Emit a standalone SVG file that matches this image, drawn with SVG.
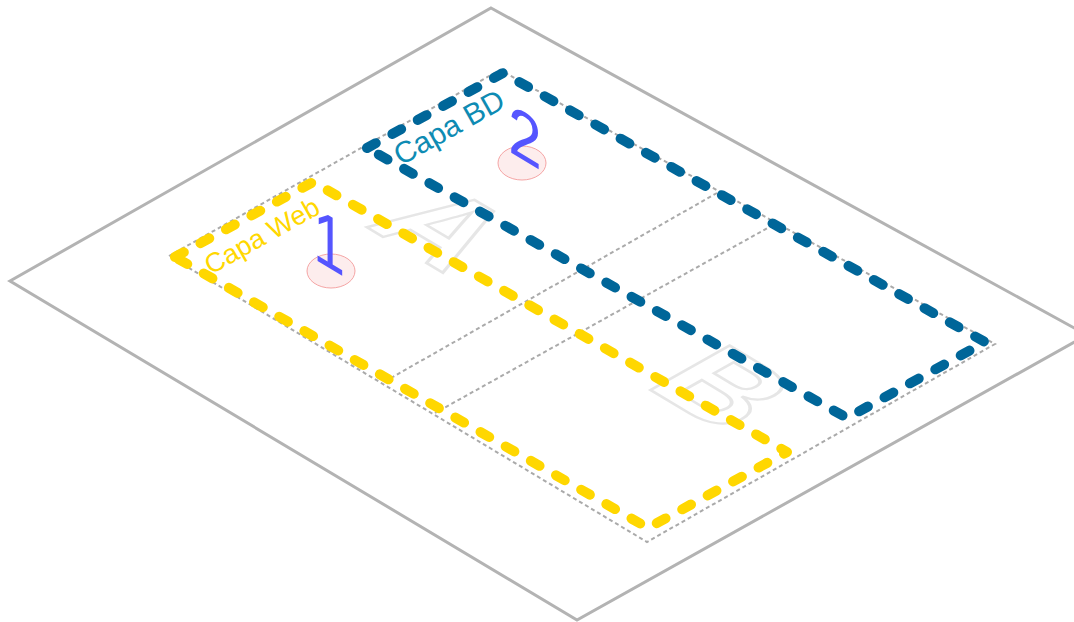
<svg xmlns="http://www.w3.org/2000/svg" width="1074" height="622" viewBox="0 0 1074 622">
  <style>
    .plane { fill: #ffffff; stroke: #b3b3b3; stroke-width: 3; stroke-linejoin: miter; }
    .grid { fill: none; stroke: #aaaaaa; stroke-width: 2; stroke-dasharray: 4 3; }
    .big { font-family: "Liberation Sans", Arial, sans-serif; font-weight: bold; font-size: 132px; fill: none; stroke: #e6e6e6; stroke-width: 3; text-anchor: middle; }
    .layer { fill: none; stroke-width: 10; stroke-linecap: round; stroke-linejoin: round; stroke-dasharray: 10 19; }
    .web { stroke: #ffd700; }
    .bd { stroke: #006699; }
    .lbl { font-family: "Liberation Sans", Arial, sans-serif; }
    .num { font-family: "Liberation Sans", Arial, sans-serif; fill: #5555ff; text-anchor: middle; }
    .spot { fill: #fde8e8; fill-opacity: 0.8; stroke: #f5a5a5; stroke-width: 1; }
  </style>
  <g id="plane">
    <polygon class="plane" points="491,8 1087,335 577,620 10,281"/>
  </g>
  <g id="grid">
    <polygon class="grid" points="169,256 500,70 995,344 647,542"/>
    <line class="grid" x1="717" y1="193" x2="382" y2="383"/>
    <line class="grid" x1="773" y1="225" x2="435" y2="413"/>
  </g>
  <g id="zone-A">
    <text class="big" transform="matrix(0.858,0.513,-0.871,0.49,405,250)">A</text>
  </g>
  <g id="zone-B">
    <text class="big" transform="matrix(0.858,0.513,-0.871,0.49,684,410)">B</text>
  </g>
  <g id="capa-web">
    <path class="layer web" d="M175,257 L313,182 L787,452 L648,528 Z"/>
    <text class="lbl" font-size="27" fill="#ffd700" transform="translate(211,275) rotate(-29.4)">Capa Web</text>
  </g>
  <g id="capa-bd">
    <path class="layer bd" d="M367,148 L503,73 L985,342 L847,418 Z"/>
    <text class="lbl" font-size="30" fill="#0e8bb3" transform="translate(401,166) rotate(-29.4)">Capa BD</text>
  </g>
  <g id="marker-1">
    <ellipse class="spot" cx="331" cy="271" rx="24" ry="17"/>
    <text class="num" font-size="76" transform="matrix(0.75,0.45,0,1,329,268)">1</text>
  </g>
  <g id="marker-2">
    <ellipse class="spot" cx="522" cy="163" rx="24" ry="17"/>
    <text class="num" font-size="70" transform="matrix(0.858,0.513,0,1,525,161)">2</text>
  </g>
</svg>
